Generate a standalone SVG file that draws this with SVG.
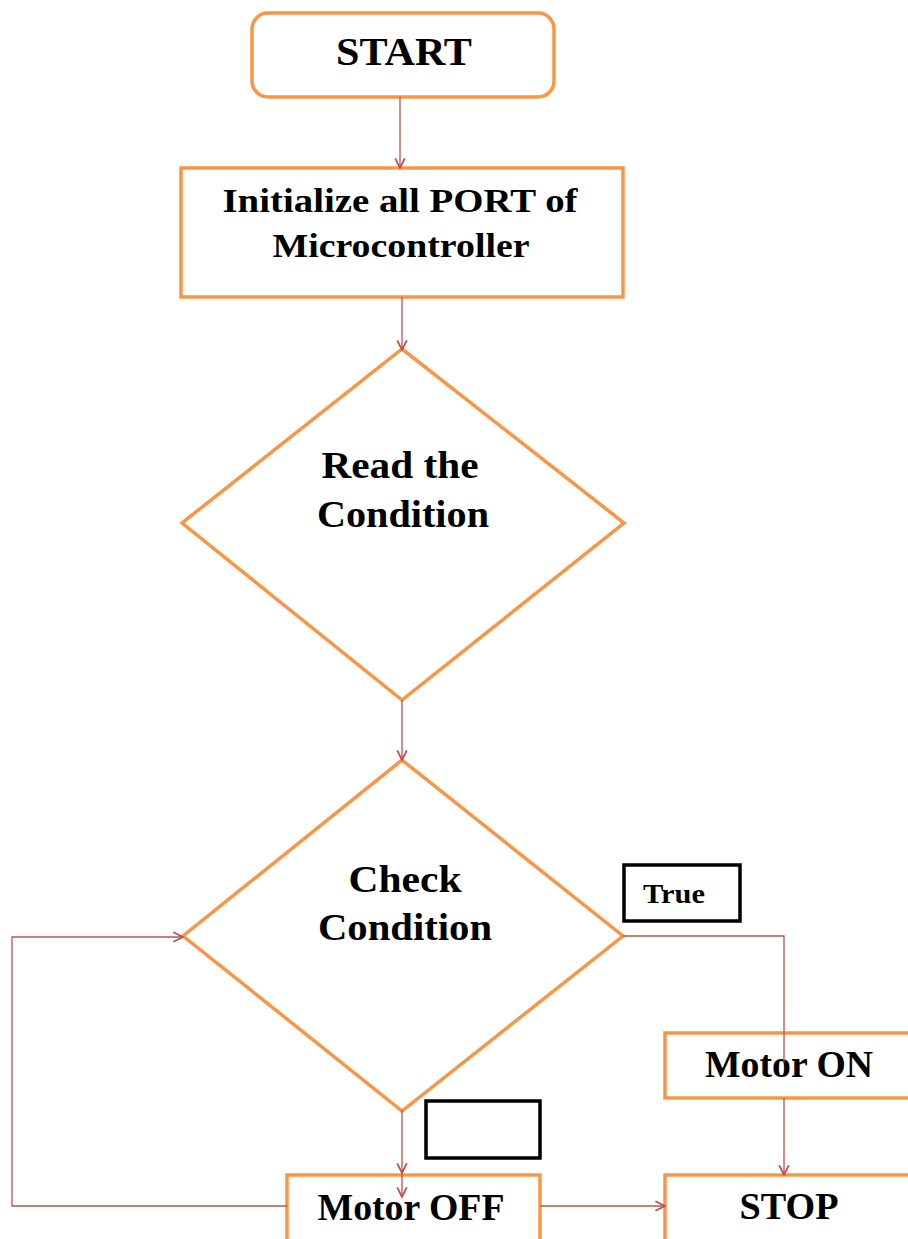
<svg xmlns="http://www.w3.org/2000/svg" width="908" height="1239" viewBox="0 0 908 1239">
<defs>
<style>
.node{fill:#fff;stroke:#F79646;stroke-width:3.5}
.open{fill:none}
.lbl{fill:#fff;stroke:#000;stroke-width:3.5}
.t{font-family:"Liberation Serif","Times New Roman",serif;font-weight:bold;fill:#000;text-anchor:middle}
.c{fill:none;stroke:#C0504D;stroke-width:1.3}
</style>
<marker id="ah" markerWidth="12" markerHeight="12" refX="9" refY="5" orient="auto" markerUnits="userSpaceOnUse" viewBox="0 0 10 10">
<path d="M1,1 L9,5 L1,9" fill="none" stroke="#C0504D" stroke-width="1.5"/>
</marker>
</defs>
<rect width="908" height="1239" fill="#fff"/>
<g id="start">
<rect class="node" x="252" y="13" width="302" height="84" rx="16"/>
<text class="t" x="404" y="65" font-size="40" textLength="136" lengthAdjust="spacingAndGlyphs">START</text>
</g>
<g id="init">
<rect class="node" x="181" y="168" width="442" height="129"/>
<text class="t" x="400" y="212" font-size="34" textLength="355" lengthAdjust="spacingAndGlyphs">Initialize  all PORT of</text>
<text class="t" x="401" y="257" font-size="34" textLength="257" lengthAdjust="spacingAndGlyphs">Microcontroller</text>
</g>
<g id="read">
<polygon class="node" points="402,349 624,523 402,700 182,523"/>
<text class="t" x="400" y="478" font-size="38" textLength="157" lengthAdjust="spacingAndGlyphs">Read the</text>
<text class="t" x="403" y="527" font-size="38" textLength="172" lengthAdjust="spacingAndGlyphs">Condition</text>
</g>
<g id="check">
<polygon class="node" points="402,760 623,936 402,1111 183,936"/>
<text class="t" x="405" y="892" font-size="38" textLength="113" lengthAdjust="spacingAndGlyphs">Check</text>
<text class="t" x="405" y="940" font-size="38" textLength="174" lengthAdjust="spacingAndGlyphs">Condition</text>
</g>
<g id="true-label">
<rect class="lbl" x="624" y="865" width="116" height="56"/>
<text class="t" x="674" y="903" font-size="28" textLength="62" lengthAdjust="spacingAndGlyphs">True</text>
</g>
<g id="empty-label">
<rect class="lbl" x="426" y="1101" width="114" height="57"/>
</g>
<g id="motor-on">
<rect class="node open" x="665" y="1033" width="260" height="65"/>
<text class="t" x="789" y="1077" font-size="37" textLength="168" lengthAdjust="spacingAndGlyphs">Motor ON</text>
</g>
<g id="motor-off">
<rect class="node open" x="287" y="1175" width="253" height="80"/>
<text class="t" x="411" y="1220" font-size="37" textLength="187" lengthAdjust="spacingAndGlyphs">Motor OFF</text>
</g>
<g id="stop">
<rect class="node open" x="665" y="1175" width="260" height="80"/>
<text class="t" x="789" y="1219" font-size="37" textLength="99" lengthAdjust="spacingAndGlyphs">STOP</text>
</g>
<g id="connectors">
<line class="c" x1="400" y1="97" x2="400" y2="168" marker-end="url(#ah)"/>
<line class="c" x1="402" y1="297" x2="402" y2="350" marker-end="url(#ah)"/>
<line class="c" x1="402" y1="700" x2="402" y2="760" marker-end="url(#ah)"/>
<line class="c" x1="402" y1="1110" x2="402" y2="1173" marker-end="url(#ah)"/>
<line class="c" x1="402" y1="1173" x2="402" y2="1197" marker-end="url(#ah)"/>
<polyline class="c" points="623,936 784,936 784,1062"/>
<line class="c" x1="784" y1="1098" x2="784" y2="1175" marker-end="url(#ah)"/>
<line class="c" x1="540" y1="1206" x2="665" y2="1206" marker-end="url(#ah)"/>
<polyline class="c" points="287,1206 12,1206 12,937 183,937" marker-end="url(#ah)"/>
</g>
</svg>
